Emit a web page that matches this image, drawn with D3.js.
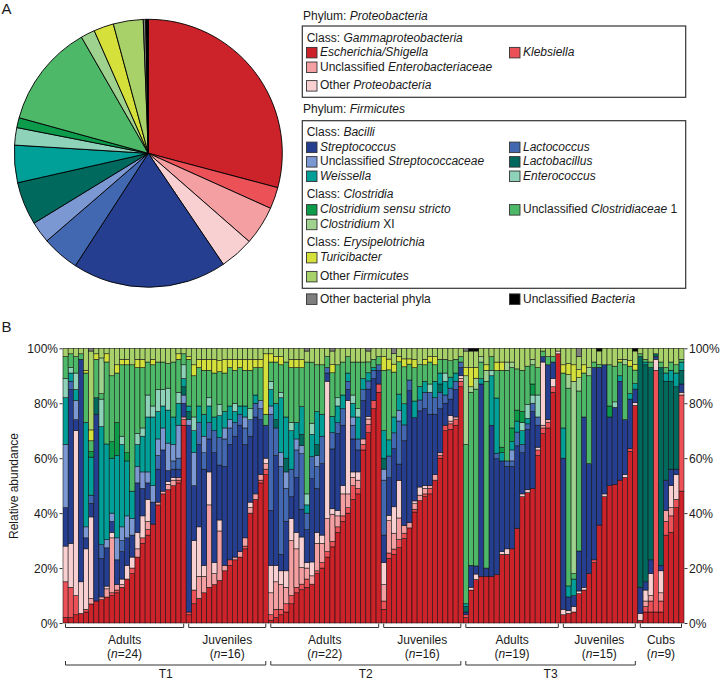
<!DOCTYPE html>
<html><head><meta charset="utf-8">
<script src="https://cdn.jsdelivr.net/npm/d3@7"></script>
<style>body{margin:0;background:#fff}svg text{font-family:"Liberation Sans",Arial,sans-serif;fill:#1a1a1a}</style>
</head><body><svg id="chart" width="720" height="681"></svg>
<script>
// ---------- DATA ----------
const seriesKeys = ["ES","KL","UE","OP","ST","LC","US","LB","WE","EN","CS","UC","CX","TU","OF","OPh","UB"];
const seriesLabels = ["_Escherichia/Shigella_","_Klebsiella_","Unclassified _Enterobacteriaceae_","Other _Proteobacteria_",
  "_Streptococcus_","_Lactococcus_","Unclassified _Streptococcaceae_","_Lactobacillus_","_Weissella_","_Enterococcus_",
  "_Clostridium sensu stricto_","Unclassified _Clostridiaceae_ 1","_Clostridium_ XI","_Turicibacter_","Other _Firmicutes_",
  "Other bacterial phyla","Unclassified _Bacteria_"];
const pieShare = [29.1,2.6,4.7,4.1,18.6,4.5,2.6,5.2,4.5,2.1,1.2,12.4,1.7,2.4,3.6,0.3,0.3];
const groupNames = ["Adults","Juveniles","Adults","Juveniles","Adults","Juveniles","Cubs"];
const groupSizes = [24,16,22,16,19,15,9];
const periodNames = ["T1","T2","T3"];
const periodGroups = [[0,1],[2,3],[4,5]];
const yTickValues = [0,0.2,0.4,0.6,0.8,1];
const yTickLabels = ["0%","20%","40%","60%","80%","100%"];

// relative abundance (%) per sample, groups in order T1A,T1J,T2A,T2J,T3A,T3J,Cubs
const ES = [2,2,3,3.5,4,7,8,8.5,9.5,10,11,13,16,18,24,29,32,36,43,47,48.5,50,51,72,
 3,7,9,11,13,14,15.5,19,21,23,24,27,40,45,51,54,
 1,2,3,4,7,11,12,13,14,18,20,24,28,33,37,40,45,47,63,70,78,84,
 5,24,26,28,32,36,40,45,46,47,52,60,70,70.5,72,86,
 2,12,16,17,17,17,17.5,25,25,27,34.5,46,47.5,49,61,69,71,84,98,
 3,3.5,4,11,12,18,22,36,46,50,50.5,52,53,62.5,80,
 1,4,4,4,4,32,33,42,48];
const KL = [13,11,7,0,1,0,0,0,0,1,1,0,0,2,0,2,2,0,0,0,0,0,1,2,
 1,5,0,0,0,0,0,0,2,0,0,1,0,0,1,2,
 2,3,2,3,3,2,2,3,0,1,2,2,2,2,2,2,5,2,2,3,3,3,
 3,2,2,3,2,0,1,0,1,2,0,1,2,2,2,2,
 1,0,0,0,0,0,0,0,0,0,0,0,0,0,2,2,2,2,0,
 0,0,0,0,0,0,1,0,0,0,0,0,0,1,0,
 0,2,4,88,4,5,6,3,35];
const UE = [0,0,0,0,0,2,0,1,3,20,2,1,0,0,3,0,3,0,1,1,2,2,1,1,
 0,0,8,6,30,4,18,2,0,1,2,3,2,2,2,2,
 8,10,9,6,20,14,6,4,3,10,7,12,10,4,8,5,3,3,2,2,0,0,
 6,12,6,8,3,2,2,2,2,1,2,1,0,1,1,1,
 0,0,0,0,0,0,0,0,0,0,0,0,0,0,0,1,1,0,0,
 0,0,0,0,0,0,0,0,0,0,0,0,0,0,0,
 0,2,2,0,3,4,3,0,0];
const OP = [13,16,60,11.5,22,30,0,0,1,2,0,2,5,4,6,8,8,0,0,0,1,1,0,0,
 0,18,18,4,12,4,4,0,0,0,0,0,2,0,0,2,
 10,6,5,6,8,6,11,2,5,4,3,50,2,2,3,34,2,3,0,1,0,0,
 8,2,10,14,0,0,1,3,1,0,0,0,0,2,0,1,
 0,1,2,0,0,0,0,1,2,0,0,1,1,0,1,23,0,3,1,
 2,1,2,1,1,0,0,0,1,0,0,0,1,0,1,
 2.5,4,8,4,8,0,8,9,1];
const ST = [14,56,4,81,4,5,68,14,14,4,9,10,10,8,18,10,6,8,12,15,4,3,3,5,
 68,20,30,35,12,40,20,36,42,44,46,34,24,28,20,12,
 20,40,6,18,8,20,10,12,30,16,26,3,22,28,22,4,12,8,14,10,8,5,
 10,14,22,6,32,50,30,28,28,26,22,16,8,6,10,3,
 1,8,3,70,3,55,42,33,30,30,30,15,22,28,8,2,20,6,0,
 55,5,4,15,62,40,70,58,47,25,28,36,20,18,5,
 9.5,3,5,1,2,11,6,2,3];
const LC = [0,3,0,0,0,3,0,5,0,0,0,4,0,0,0,0,0,0,5,0,0,3,4,0,
 0,0,8,6,6,8,10,10,6,5,4,6,6,5,4,0,
 35,10,32,12,10,10,20,6,8,8,10,2,6,4,6,3,5,4,4,3,3,2,
 20,8,6,16,6,4,0,4,6,8,6,6,3,4,3,2,
 0,0,0,0,0,0,2,0,2,2,5,3,2,3,3,0,0,0,0,
 0,0,0,0,0,0,0,0,0,0,0,0,0,0,0,
 0,0,0,0,0,0,0,0,0];
const US = [23,0,7,0,4,0,0,0,3,3,8,5,8,6,6,6,4,6,6,8,10,6,12,3,
 2,12,0,6,0,0,0,4,3,0,0,4,0,0,3,0,
 3,0,5,6,0,4,3,0,0,4,0,0,0,0,0,0,3,0,0,0,0,0,
 4,0,0,4,0,0,0,0,0,0,0,0,0,0,0,0,
 0,0,0,0,0,0,0,0,0,4,0,0,0,0,0,0,0,0,0,
 0,0,0,0,0,0,0,0,0,0,0,0,0,0,0,
 0,0,0,0,0,0,0,0,0];
const LB = [0,0,0,0,0,0,6,0,0,0,0,0,0,0,0,0,0,0,0,0,0,0,0,3,
 3,0,0,0,0,0,0,0,0,0,0,0,0,0,0,0,
 0,3,0,5,0,0,4,0,0,4,0,0,0,0,0,0,0,0,0,0,0,0,
 4,0,0,0,0,0,0,0,0,0,0,3,0,0,0,0,
 2,0,0,0,0,0,0,0,0,0,0,0,0,0,0,0,0,0,0,
 0,0,0,0,0,0,0,0,0,0,0,0,0,0,0,
 84,79,70,1,72,36,32,30,5];
const WE = [17,3,4,0,38,14,0,43,35,20,30,30,20,10,8,13,20,25,10,8,12,10,8,3,
 2,8,6,8,6,5,8,6,5,4,3,4,0,3,0,0,
 6,6,20,15,14,6,10,3,8,12,8,0,6,6,5,3,5,8,4,3,1,0,
 10,6,6,6,8,0,6,5,4,0,6,4,5,4,3,0,
 1,0,0,2,0,18,20,3,0,3,4,5,2,0,0,0,0,0,0,
 11,4,6,0,0,0,0,0,0,0,0,2,0,2,2,
 0,1,0,0,0,3,4,5,3];
const EN = [7,2,6,0,0,0,0,10,0,0,0,3,0,0,4,3,8,4,8,6,8,0,4,5,
 0,5,0,0,3,0,4,0,0,3,0,0,4,0,0,0,
 3,0,2,0,3,0,0,4,4,0,0,0,0,3,0,0,3,3,0,0,0,0,
 0,0,0,0,0,0,0,0,0,3,0,0,3,0,0,0,
 0,0,0,0,0,2,0,0,0,0,0,3,5,3,8,0,0,0,0,
 0,0,0,0,0,0,0,0,0,0,2,0,0,0,0,
 0,0,0,0,0,0,0,0,0];
const CS = [0,0,0,0,0,2,0,0,0,6,12,0,3,0,0,0,0,0,0,0,0,0,0,0,
 0,0,0,0,0,0,0,0,0,0,0,0,0,0,0,0,
 0,0,0,0,0,0,0,0,0,0,0,0,0,0,0,0,0,0,0,0,0,0,
 0,0,0,0,0,0,0,0,0,0,0,0,0,0,0,0,
 0,0,0,0,0,0,0,2,0,5,4,4,0,4,0,0,0,0,0,
 0,0,0,0,0,0,0,0,0,4,0,0,0,0,0,
 0,0,0,0,0,0,0,0,0];
const UC = [8,5,6,2,18,4,14,2,30,24,18,26,32,46,24,22,12,15,10,10,9,20,12,4,
 17,15,14,16,10,16,12,14,14,12,14,13,14,10,12,4,
 7,15,10,20,20,20,14,48,22,17,18,4,16,12,12,6,12,17,6,4,3,3,
 22,26,17,12,14,6,12,8,6,8,6,5,5,6,5,2,
 58,63,65,6,68,5,10,28,33,22,15,15,14,7,10,2,3,2,0,
 20,72,2,60,16,32,2,1,0,15,13,5,20,10,5,
 1,1,2,0,2,2,3,3,1];
const CX = [0,0,0,0,0,0,0,13,0,0,0,0,0,0,0,0,0,0,0,0,0,0,0,0,
 0,0,0,0,0,0,0,0,0,0,0,0,0,0,0,0,
 0,0,0,0,0,0,0,0,0,0,0,0,0,0,0,0,0,0,0,0,0,0,
 0,0,0,0,0,0,0,0,0,0,0,0,0,0,0,0,
 25,2,4,2,4,0,0,0,3,2,0,0,0,2,0,0,0,0,0,
 0,5,70,5,0,3,0,0,0,0,0,0,2,0,0,
 0,0,0,0,0,0,0,0,0];
const TU = [0,0,0,0,1,4,2,0,3,0,3,2,2,0,3,3,0,2,0,0,0,0,2,0,
 1,4,3,4,4,5,4,5,3,4,3,4,4,3,3,22,
 3,2,3,0,3,3,3,0,0,0,0,0,3,0,0,0,0,0,0,0,0,0,
 5,4,3,2,3,2,3,0,2,2,3,0,0,0,0,0,
 3,7,4,0,2,0,3,3,0,0,0,0,0,0,0,0,0,0,0,
 3,4,6,3,3,0,0,0,0,0,0,1,0,2,2,
 0,0,0,0,0,0,0,0,0];
const OF = [3,2,3,2,8,29,2,3.5,2,10,6,4,4,6,4,4,5,4,5,5,5.5,5,2,2,
 3,6,4,4,4,4,4.5,4,4,4,4,4,4,4,4,2,
 2,3,3,5,4,4,4,4,5,6,6,3,5,6,5,3,5,5,5,4,4,3,
 3,4,4,3,4,4,4,6,4,3,3,4,4,4.5,4,3,
 6,6,6,3,6,3,5,5,5,5,7.5,8,6.5,4,7,1,3,3,1,
 6,5.5,6,5,6,7,5,5,6,6,6.5,4,4,4.5,5,
 2,4,5,2,5,7,5,6,4];
const OPh = [0,0,0,0,0,1,0,0,0,0,0,0,0,0,0,0,0,0,0,0,0,0,0,0,
 0,0,0,0,0,0,0,0,0,0,0,0,0,0,0,0,
 0,0,0,0,0,0,0,1,0,0,0,0,1,0,0,0,0,0,0,1,0,0,
 0,0,2,0,0,0,0,0,0,0,0,0,0,0,0,0,
 1,0,0,0,0,0,0,0,0,0,0,0,0,0,0,0,0,0,0,
 0,0,0,3,0,0,0,0,0,0,0,0,0,0,0,
 0,0,0,0,0,0,0,0,0];
const UB = [0,0,0,0,0,0,0,0,0,0,0,0,0,0,0,0,0,0,0,0,0,0,0,0,
 0,0,0,0,0,0,0,0,0,0,0,0,0,0,0,0,
 0,0,0,0,0,0,0,0,0,0,0,0,0,0,0,0,0,0,0,0,0,0,
 0,0,0,0,0,0,0,0,0,0,0,0,0,0,0,0,
 0,1,1,0,0,0,0,0,0,0,0,0,0,0,0,0,0,0,0,
 0,0,0,0,0,0,0,1,0,0,0,0,0,0,1,
 0,0,0,0,0,0,0,0,0];

// ---------- STYLE ----------
const palette = ["#cc2229","#ec5158","#f4a0a3","#f9d0d2","#253e8f","#4268b1","#7b98d2","#00695e","#009f98","#8dd2b9",
  "#0c9a4b","#4db968","#9ed28e","#d5e03a","#a9d16a","#7f7f7f","#000000"];
const seriesData = {ES,KL,UE,OP,ST,LC,US,LB,WE,EN,CS,UC,CX,TU,OF,OPh,UB};
const color = d3.scaleOrdinal().domain(seriesKeys).range(palette);

const svg = d3.select("#chart");
const FS = 12;
function rich(t, str){
  str.split("_").forEach((s,i)=>{ if(s) t.append("tspan").text(s).attr("font-style", i%2 ? "italic" : "normal"); });
  return t;
}

// length check (debug)
const nSamples = d3.sum(groupSizes);
const bad = seriesKeys.filter(k => seriesData[k].length !== nSamples);
if (bad.length) svg.append("text").attr("x",200).attr("y",330).attr("fill","red").style("fill","red").text("LEN " + bad.map(k=>k+":"+seriesData[k].length).join(" "));

// ---------- PANEL A ----------
svg.append("text").attr("x",1.5).attr("y",13.5).attr("font-size",15).text("A");
const pieG = svg.append("g").attr("transform","translate(148.3,153.3)");
const pie = d3.pie().sort(null).value(d=>d.v).startAngle(0).endAngle(2*Math.PI);
const arc = d3.arc().innerRadius(0).outerRadius(134);
pieG.selectAll("path").data(pie(seriesKeys.map((k,i)=>({k, v: pieShare[i]}))))
  .join("path").attr("d",arc).attr("fill",d=>color(d.data.k))
  .attr("stroke","#000").attr("stroke-width",0.9).attr("stroke-linejoin","round");

// legend
const L = svg.append("g").attr("font-size",FS);
const col0 = 306.5, col1 = 509.5;
function header(y, str, x=303){ rich(L.append("text").attr("x",x).attr("y",y), str); }
function item(k, col, y){
  const i = seriesKeys.indexOf(k);
  const sx = col ? col1 : col0;
  L.append("rect").attr("x",sx).attr("y",y-8.6).attr("width",10.5).attr("height",10.5)
    .attr("fill",color(k)).attr("stroke","#333").attr("stroke-width",0.9);
  rich(L.append("text").attr("x",sx+13.5).attr("y",y), seriesLabels[i]);
}
header(20, "Phylum: _Proteobacteria_");
L.append("rect").attr("x",302.3).attr("y",26).attr("width",383.4).attr("height",71.3)
  .attr("fill","none").attr("stroke","#333").attr("stroke-width",1.2);
header(41.7, "Class: _Gammaproteobacteria_", 306.7);
item("ES",0,56); item("KL",1,56);
item("UE",0,70.6);
item("OP",0,89.2);
header(112.7, "Phylum: _Firmicutes_");
L.append("rect").attr("x",302.3).attr("y",120.7).attr("width",383.4).attr("height",167.6)
  .attr("fill","none").attr("stroke","#333").attr("stroke-width",1.2);
header(136, "Class: _Bacilli_", 306.7);
item("ST",0,150.7); item("LC",1,150.7);
item("US",0,165.2); item("LB",1,165.2);
item("WE",0,179.6); item("EN",1,179.6);
header(198.2, "Class: _Clostridia_", 306.7);
item("CS",0,213.2); item("UC",1,213.2);
item("CX",0,227.8);
header(246.2, "Class: _Erysipelotrichia_", 306.7);
item("TU",0,261);
item("OF",0,280);
item("OPh",0,302.5); item("UB",1,302.5);

// ---------- PANEL B ----------
svg.append("text").attr("x",1.5).attr("y",331.5).attr("font-size",15).text("B");

const samples = d3.range(nSamples).map(i => {
  const o = {i};
  seriesKeys.forEach(k => o[k] = seriesData[k][i]);
  return o;
});
const x = d3.scaleBand().domain(d3.range(nSamples)).range([63,684]).padding(0);
const y = d3.scaleLinear().domain([0,1]).range([623,348.3]);
const stack = d3.stack().keys(seriesKeys).offset(d3.stackOffsetExpand);
const layers = stack(samples);

const barG = svg.append("g");
barG.selectAll("g").data(layers).join("g").attr("fill",d=>color(d.key))
  .selectAll("rect").data(d=>d.filter(s => s[1]-s[0] > 1e-9)).join("rect")
  .attr("x",d=>x(d.data.i)).attr("width",x.bandwidth())
  .attr("y",d=>y(d[1])).attr("height",d=>y(d[0])-y(d[1]))
  .attr("stroke","#111").attr("stroke-width",0.55);

// axes
const axL = svg.append("g").attr("transform","translate(62.5,0)")
  .call(d3.axisLeft(y).tickValues(yTickValues).tickFormat((d,i)=>yTickLabels[i]).tickSize(3).tickPadding(1.5));
const axR = svg.append("g").attr("transform","translate(684.5,0)")
  .call(d3.axisRight(y).tickValues(yTickValues).tickFormat((d,i)=>yTickLabels[i]).tickSize(3).tickPadding(1.5));
[axL,axR].forEach(a=>{
  a.select(".domain").remove();
  a.selectAll("text").attr("font-size",FS).attr("font-family","Liberation Sans, Arial, sans-serif").attr("fill","#1a1a1a").attr("dy","0.36em");
  a.selectAll("line").attr("stroke","#333");
});
svg.append("text").attr("transform","translate(17.5,486) rotate(-90)").attr("text-anchor","middle")
  .attr("font-size",FS).text("Relative abundance");

// group brackets
const starts = []; let acc = 0;
groupSizes.forEach(n => { starts.push(acc); acc += n; });
const gx0 = starts.map(s => x(s) + 2.5);
const gx1 = starts.map((s,i) => x(s + groupSizes[i] - 1) + x.bandwidth() - 2.5);
const brG = svg.append("g").attr("fill","none").attr("stroke","#333").attr("stroke-width",1);
groupNames.forEach((g,i)=>{
  brG.append("path").attr("d",`M${gx0[i]},623.5V627.5H${gx1[i]}V623.5`);
  const cx = (gx0[i]+gx1[i])/2;
  svg.append("text").attr("x",cx).attr("y",644).attr("text-anchor","middle").attr("font-size",FS).text(g);
  rich(svg.append("text").attr("x",cx).attr("y",657.5).attr("text-anchor","middle").attr("font-size",FS),
       "(_n_=" + groupSizes[i] + ")");
});
periodNames.forEach((p,i)=>{
  const a = gx0[periodGroups[i][0]], b = gx1[periodGroups[i][1]];
  brG.append("path").attr("d",`M${a},661V665H${b}V661`);
  svg.append("text").attr("x",(a+b)/2).attr("y",678).attr("text-anchor","middle").attr("font-size",FS).text(p);
});
</script>
</body></html>
